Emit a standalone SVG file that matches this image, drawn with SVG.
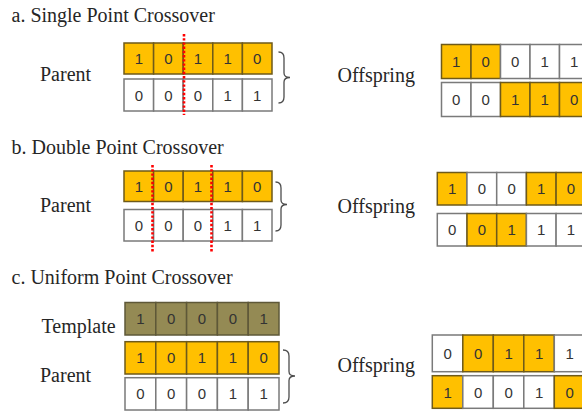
<svg xmlns="http://www.w3.org/2000/svg" width="582" height="412" viewBox="0 0 582 412">
  <style>
    .ttl { font-family: "Liberation Serif", "Times New Roman", serif; font-size: 20px; fill: #262626; }
    .lbl { font-family: "Liberation Serif", "Times New Roman", serif; font-size: 20px; fill: #262626; }
    .bit { font-family: "Liberation Sans", Arial, sans-serif; font-size: 15px; fill: #333333; text-anchor: middle; }
    .w { fill: #ffffff; stroke: #7a7a7a; stroke-width: 1.5; }
    .o { fill: #ffc000; stroke: #6e5a1a; stroke-width: 1.5; }
    .t { fill: #948a54; stroke: #5e5838; stroke-width: 1.5; }
    .cut { stroke: #ff0000; stroke-width: 2.6; stroke-dasharray: 2.4 1.8; fill: none; }
    .brace { fill: none; stroke: #4d4d4d; stroke-width: 1.3; }
  </style>

  <!-- a. single point crossover -->
  <text class="ttl" x="11.5" y="21.5">a. Single Point Crossover</text>
  <g id="parent-a">
    <text class="lbl" x="40" y="81">Parent</text>
    <g transform="translate(124,43)">
      <rect class="o" x="0" width="29.6" height="31"/><rect class="o" x="29.6" width="29.6" height="31"/><rect class="o" x="59.2" width="29.6" height="31"/><rect class="o" x="88.8" width="29.6" height="31"/><rect class="o" x="118.4" width="29.6" height="31"/>
      <text class="bit" x="14.8" y="21">1</text><text class="bit" x="44.4" y="21">0</text><text class="bit" x="74" y="21">1</text><text class="bit" x="103.6" y="21">1</text><text class="bit" x="133.2" y="21">0</text>
    </g>
    <g transform="translate(124,79)">
      <rect class="w" x="0" width="29.6" height="32"/><rect class="w" x="29.6" width="29.6" height="32"/><rect class="w" x="59.2" width="29.6" height="32"/><rect class="w" x="88.8" width="29.6" height="32"/><rect class="w" x="118.4" width="29.6" height="32"/>
      <text class="bit" x="14.8" y="21.5">0</text><text class="bit" x="44.4" y="21.5">0</text><text class="bit" x="74" y="21.5">0</text><text class="bit" x="103.6" y="21.5">1</text><text class="bit" x="133.2" y="21.5">1</text>
    </g>
  </g>
  <g id="offspring-a">
    <text class="lbl" x="337.5" y="81.5">Offspring</text>
    <g transform="translate(441.5,44.5)">
      <rect class="o" x="0" width="29.5" height="34"/><rect class="o" x="29.5" width="29.5" height="34"/><rect class="w" x="59" width="29.5" height="34"/><rect class="w" x="88.5" width="29.5" height="34"/><rect class="w" x="118" width="29.5" height="34"/>
      <text class="bit" x="14.75" y="22.5">1</text><text class="bit" x="44.25" y="22.5">0</text><text class="bit" x="73.75" y="22.5">0</text><text class="bit" x="103.25" y="22.5">1</text><text class="bit" x="132.75" y="22.5">1</text>
    </g>
    <g transform="translate(441.5,82.5)">
      <rect class="w" x="0" width="29.5" height="34"/><rect class="w" x="29.5" width="29.5" height="34"/><rect class="o" x="59" width="29.5" height="34"/><rect class="o" x="88.5" width="29.5" height="34"/><rect class="o" x="118" width="29.5" height="34"/>
      <text class="bit" x="14.75" y="22.5">0</text><text class="bit" x="44.25" y="22.5">0</text><text class="bit" x="73.75" y="22.5">1</text><text class="bit" x="103.25" y="22.5">1</text><text class="bit" x="132.75" y="22.5">0</text>
    </g>
  </g>

  <!-- b. double point crossover -->
  <text class="ttl" x="11.5" y="153.5">b. Double Point Crossover</text>
  <g id="parent-b">
    <text class="lbl" x="40" y="211.5">Parent</text>
    <g transform="translate(124,171)">
      <rect class="o" x="0" width="29.6" height="30.5"/><rect class="o" x="29.6" width="29.6" height="30.5"/><rect class="o" x="59.2" width="29.6" height="30.5"/><rect class="o" x="88.8" width="29.6" height="30.5"/><rect class="o" x="118.4" width="29.6" height="30.5"/>
      <text class="bit" x="14.8" y="20.5">1</text><text class="bit" x="44.4" y="20.5">0</text><text class="bit" x="74" y="20.5">1</text><text class="bit" x="103.6" y="20.5">1</text><text class="bit" x="133.2" y="20.5">0</text>
    </g>
    <g transform="translate(124,209.5)">
      <rect class="w" x="0" width="29.6" height="31.5"/><rect class="w" x="29.6" width="29.6" height="31.5"/><rect class="w" x="59.2" width="29.6" height="31.5"/><rect class="w" x="88.8" width="29.6" height="31.5"/><rect class="w" x="118.4" width="29.6" height="31.5"/>
      <text class="bit" x="14.8" y="21.5">0</text><text class="bit" x="44.4" y="21.5">0</text><text class="bit" x="74" y="21.5">0</text><text class="bit" x="103.6" y="21.5">1</text><text class="bit" x="133.2" y="21.5">1</text>
    </g>
  </g>
  <g id="offspring-b">
    <text class="lbl" x="337.5" y="213">Offspring</text>
    <g transform="translate(437.3,172.5)">
      <rect class="o" x="0" width="29.7" height="32.5"/><rect class="w" x="29.7" width="29.7" height="32.5"/><rect class="w" x="59.4" width="29.7" height="32.5"/><rect class="o" x="89.1" width="29.7" height="32.5"/><rect class="o" x="118.8" width="29.7" height="32.5"/>
      <text class="bit" x="14.85" y="21.5">1</text><text class="bit" x="44.55" y="21.5">0</text><text class="bit" x="74.25" y="21.5">0</text><text class="bit" x="103.95" y="21.5">1</text><text class="bit" x="133.65" y="21.5">0</text>
    </g>
    <g transform="translate(437.3,213.5)">
      <rect class="w" x="0" width="29.7" height="32.5"/><rect class="o" x="29.7" width="29.7" height="32.5"/><rect class="o" x="59.4" width="29.7" height="32.5"/><rect class="w" x="89.1" width="29.7" height="32.5"/><rect class="w" x="118.8" width="29.7" height="32.5"/>
      <text class="bit" x="14.85" y="21.5">0</text><text class="bit" x="44.55" y="21.5">0</text><text class="bit" x="74.25" y="21.5">1</text><text class="bit" x="103.95" y="21.5">1</text><text class="bit" x="133.65" y="21.5">1</text>
    </g>
  </g>

  <!-- c. uniform point crossover -->
  <text class="ttl" x="11.5" y="284">c. Uniform Point Crossover</text>
  <g id="template-c">
    <text class="lbl" x="41.5" y="332.5">Template</text>
    <g transform="translate(125,302.5)">
      <rect class="t" x="0" width="30.8" height="32.5"/><rect class="t" x="30.8" width="30.8" height="32.5"/><rect class="t" x="61.6" width="30.8" height="32.5"/><rect class="t" x="92.4" width="30.8" height="32.5"/><rect class="t" x="123.2" width="30.8" height="32.5"/>
      <text class="bit" x="15.4" y="21.5">1</text><text class="bit" x="46.2" y="21.5">0</text><text class="bit" x="77" y="21.5">0</text><text class="bit" x="107.8" y="21.5">0</text><text class="bit" x="138.6" y="21.5">1</text>
    </g>
  </g>
  <g id="parent-c">
    <text class="lbl" x="40" y="381.5">Parent</text>
    <g transform="translate(125,341.7)">
      <rect class="o" x="0" width="30.8" height="32.3"/><rect class="o" x="30.8" width="30.8" height="32.3"/><rect class="o" x="61.6" width="30.8" height="32.3"/><rect class="o" x="92.4" width="30.8" height="32.3"/><rect class="o" x="123.2" width="30.8" height="32.3"/>
      <text class="bit" x="15.4" y="21.5">1</text><text class="bit" x="46.2" y="21.5">0</text><text class="bit" x="77" y="21.5">1</text><text class="bit" x="107.8" y="21.5">1</text><text class="bit" x="138.6" y="21.5">0</text>
    </g>
    <g transform="translate(125,377.7)">
      <rect class="w" x="0" width="30.8" height="32.3"/><rect class="w" x="30.8" width="30.8" height="32.3"/><rect class="w" x="61.6" width="30.8" height="32.3"/><rect class="w" x="92.4" width="30.8" height="32.3"/><rect class="w" x="123.2" width="30.8" height="32.3"/>
      <text class="bit" x="15.4" y="21.5">0</text><text class="bit" x="46.2" y="21.5">0</text><text class="bit" x="77" y="21.5">0</text><text class="bit" x="107.8" y="21.5">1</text><text class="bit" x="138.6" y="21.5">1</text>
    </g>
  </g>
  <g id="offspring-c">
    <text class="lbl" x="337.5" y="371.5">Offspring</text>
    <g transform="translate(432.3,335)">
      <rect class="w" x="0" width="30.5" height="36.7"/><rect class="o" x="30.5" width="30.5" height="36.7"/><rect class="o" x="61" width="30.5" height="36.7"/><rect class="o" x="91.5" width="30.5" height="36.7"/><rect class="w" x="122" width="30.5" height="36.7"/>
      <text class="bit" x="15.25" y="23.5">0</text><text class="bit" x="45.75" y="23.5">0</text><text class="bit" x="76.25" y="23.5">1</text><text class="bit" x="106.75" y="23.5">1</text><text class="bit" x="137.25" y="23.5">1</text>
    </g>
    <g transform="translate(432.3,375.7)">
      <rect class="o" x="0" width="30.5" height="32.6"/><rect class="w" x="30.5" width="30.5" height="32.6"/><rect class="w" x="61" width="30.5" height="32.6"/><rect class="w" x="91.5" width="30.5" height="32.6"/><rect class="o" x="122" width="30.5" height="32.6"/>
      <text class="bit" x="15.25" y="22">1</text><text class="bit" x="45.75" y="22">0</text><text class="bit" x="76.25" y="22">0</text><text class="bit" x="106.75" y="22">1</text><text class="bit" x="137.25" y="22">0</text>
    </g>
  </g>

  <!-- cut points and pairing braces -->
  <g id="connectors">
    <line class="cut" x1="184" y1="34" x2="184" y2="115"/>
    <line class="cut" x1="152.5" y1="165" x2="152.5" y2="252"/>
    <line class="cut" x1="211.5" y1="165" x2="211.5" y2="252"/>
    <path class="brace" d="M278.5,52 Q284,52 284,58 L284,73 Q284,77.5 290,77.5 Q284,77.5 284,82 L284,97 Q284,103 278.5,103"/>
    <path class="brace" d="M275.5,182 Q281,182 281,188 L281,200 Q281,204.5 287,204.5 Q281,204.5 281,209 L281,225 Q281,231 275.5,231"/>
    <path class="brace" d="M283,350 Q289,350 289,356 L289,371.5 Q289,376 295,376 Q289,376 289,380.5 L289,397 Q289,403 283,403"/>
  </g>
</svg>
